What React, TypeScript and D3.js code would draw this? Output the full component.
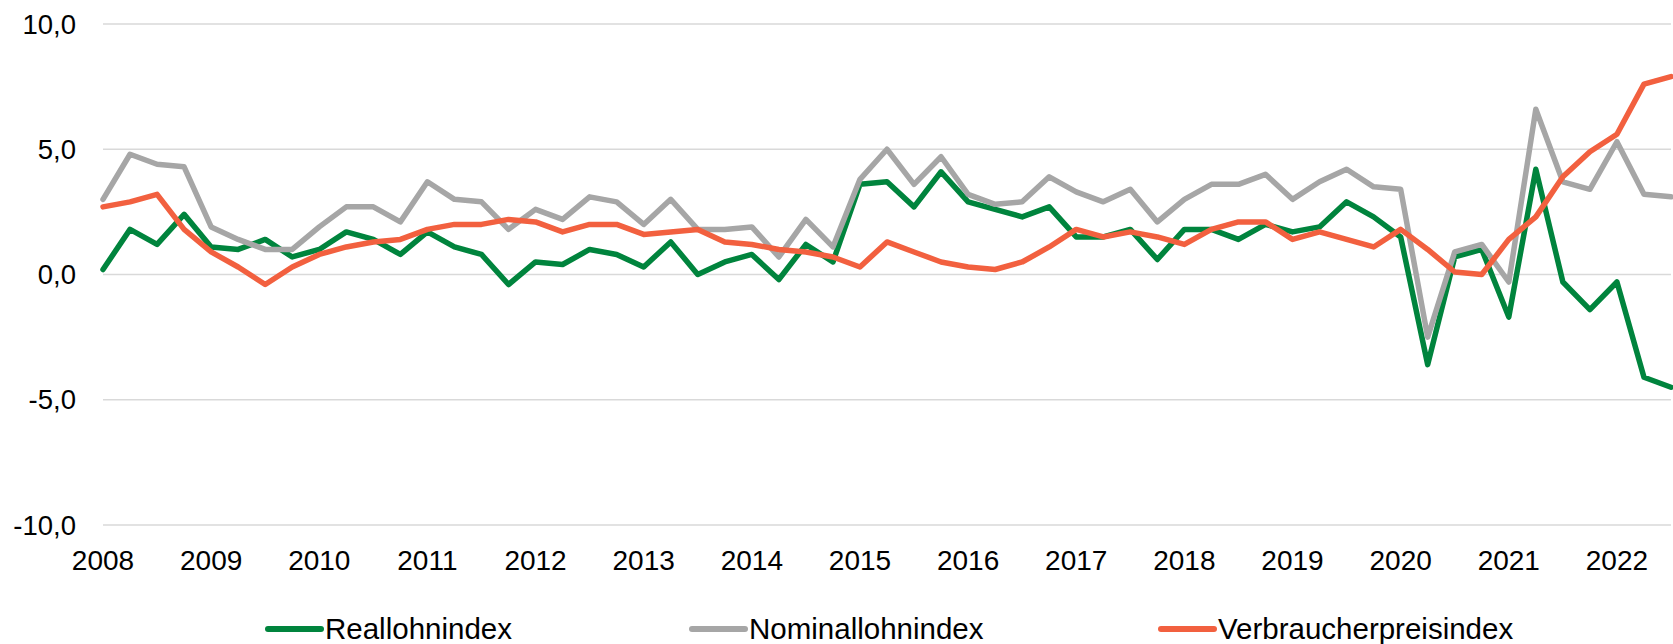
import React from "react";
import * as d3 from "d3";

const years = ["2008","2009","2010","2011","2012","2013","2014","2015","2016","2017","2018","2019","2020","2021","2022"];
const quartersPerYear = 4;
const yTicks = [-10, -5, 0, 5, 10];

const reallohn = [0.2,1.8,1.2,2.4,1.1,1.0,1.4,0.7,1.0,1.7,1.4,0.8,1.7,1.1,0.8,
  -0.4,0.5,0.4,1.0,0.8,0.3,1.3,0.0,0.5,0.8,-0.2,1.2,0.5,3.6,3.7,2.7,4.1,2.9,
  2.6,2.3,2.7,1.5,1.5,1.8,0.6,1.8,1.8,1.4,2.0,1.7,1.9,2.9,2.3,1.5,
  -3.6,0.7,1.0,-1.7,4.2,-0.3,-1.4,-0.3,-4.1,-4.5];
const nominallohn = [3.0,4.8,4.4,4.3,1.9,1.4,1.0,1.0,1.9,2.7,2.7,2.1,3.7,3.0,2.9,
  1.8,2.6,2.2,3.1,2.9,2.0,3.0,1.8,1.8,1.9,0.7,2.2,1.1,3.8,5.0,3.6,4.7,3.2,
  2.8,2.9,3.9,3.3,2.9,3.4,2.1,3.0,3.6,3.6,4.0,3.0,3.7,4.2,3.5,3.4,
  -2.5,0.9,1.2,-0.3,6.6,3.7,3.4,5.3,3.2,3.1];
const vpi = [2.7,2.9,3.2,1.8,0.9,0.3,-0.4,0.3,0.8,1.1,1.3,1.4,1.8,2.0,2.0,
  2.2,2.1,1.7,2.0,2.0,1.6,1.7,1.8,1.3,1.2,1.0,0.9,0.7,0.3,1.3,0.9,0.5,0.3,
  0.2,0.5,1.1,1.8,1.5,1.7,1.5,1.2,1.8,2.1,2.1,1.4,1.7,1.4,1.1,1.8,
  1.0,0.1,0.0,1.4,2.3,3.9,4.9,5.6,7.6,7.9];

const seriesNames = ["Reallohnindex", "Nominallohnindex", "Verbraucherpreisindex"];
const seriesColors = ["#00843D", "#A6A6A6", "#F2603F"];
const seriesData = [reallohn, nominallohn, vpi];
const legendX = [268, 692, 1161];

const W = 1673, H = 644;
const FONT = "'Liberation Sans', Arial, sans-serif";

export default function App() {
  const n = reallohn.length;
  const x = d3.scaleLinear().domain([0, n - 1]).range([103, 1671]);
  const y = d3.scaleLinear().domain([-10, 10]).range([525, 24]);
  const line = d3.line<number>().x((_, i) => x(i)).y((d) => y(d));

  return (
    <div style={{ position: "absolute", left: 0, top: 0 }}>
      <svg width={W} height={H} style={{ display: "block", background: "#fff" }}>
        {yTicks.map((t) => (
          <g key={t}>
            <line x1={x(0)} x2={x(n - 1)} y1={y(t)} y2={y(t)} stroke="#D9D9D9" strokeWidth={1.5} />
            <text x={76} y={y(t)} dy="0.35em" textAnchor="end" fontFamily={FONT} fontSize={27.5} fill="#000">
              {d3.format(".1f")(t).replace(".", ",").replace("−", "-")}
            </text>
          </g>
        ))}
        {years.map((yr, k) => (
          <text key={yr} x={x(k * quartersPerYear)} y={570} textAnchor="middle" fontFamily={FONT} fontSize={28} fill="#000">
            {yr}
          </text>
        ))}
        {seriesData.map((s, si) => (
          <path key={si} d={line(s) || ""} fill="none" stroke={seriesColors[si]} strokeWidth={5.5}
            strokeLinejoin="round" strokeLinecap="round" />
        ))}
        {seriesNames.map((name, si) => (
          <g key={name}>
            <line x1={legendX[si]} x2={legendX[si] + 53} y1={629} y2={629} stroke={seriesColors[si]} strokeWidth={6} strokeLinecap="round" />
            <text x={legendX[si] + 57} y={639} fontFamily={FONT} fontSize={29.5} fill="#000">{name}</text>
          </g>
        ))}
      </svg>
    </div>
  );
}
